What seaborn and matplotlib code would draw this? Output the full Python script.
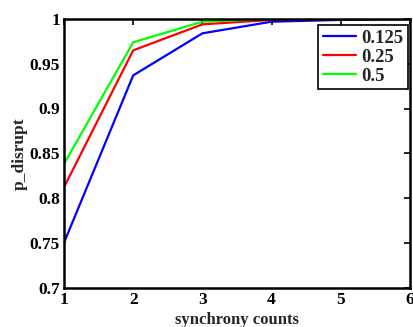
import matplotlib
matplotlib.use("Agg")
import matplotlib.pyplot as plt
import seaborn as sns
import pandas as pd

x_counts = [1, 2, 3, 4, 5, 6]
p_0125 = [0.750, 0.937, 0.984, 0.997, 0.999, 1.000]
p_025 = [0.812, 0.965, 0.994, 0.999, 1.000, 1.000]
p_05 = [0.838, 0.974, 0.997, 1.000, 1.000, 1.000]
series_labels = ["0.125", "0.25", "0.5"]
colors = ["#0000ff", "#ff0000", "#00ff00"]

rows = []
for lab, vals in zip(series_labels, [p_0125, p_025, p_05]):
    for xv, yv in zip(x_counts, vals):
        rows.append({"x": xv, "p": yv, "series": lab})
df = pd.DataFrame(rows)

sns.set_style("white")
plt.rcParams['font.family'] = ['Liberation Serif', 'DejaVu Serif']
plt.rcParams['font.weight'] = 'bold'

fig = plt.figure(figsize=(4.13, 3.27), dpi=100)
ax = fig.add_axes([64/413, 1-287.5/327, (410-64)/413, (287.5-19)/327])
sns.lineplot(data=df, x="x", y="p", hue="series", palette=colors,
             linewidth=1.6, ax=ax, legend=True)

ax.set_xlim(1, 6)
ax.set_ylim(0.7, 1.0)
ax.set_xticks([1, 2, 3, 4, 5, 6])
ax.set_xticklabels(["1", "2", "3", "4", "5", "6"])
yt = [0.7, 0.75, 0.8, 0.85, 0.9, 0.95, 1.0]
ax.set_yticks(yt)
ax.set_yticklabels(["0.7", "0.75", "0.8", "0.85", "0.9", "0.95", "1"])
ax.tick_params(direction='in', length=4, width=1.2, top=True, right=True,
               labelsize=12.5, pad=3, colors='black')
for lbl in ax.get_xticklabels() + ax.get_yticklabels():
    lbl.set_fontweight('bold')
for sp in ax.spines.values():
    sp.set_visible(True)
    sp.set_color('black')
    sp.set_linewidth(1.8)

ax.set_xlabel("synchrony counts", fontsize=12, fontweight='bold', labelpad=3)
ax.set_ylabel("p_disrupt", fontsize=12.5, fontweight='bold', labelpad=1)

leg = ax.legend(loc='upper right', bbox_to_anchor=(0.994, 0.978), frameon=True,
                fancybox=False, framealpha=1, edgecolor='black',
                prop={'weight': 'bold', 'size': 13.5}, handlelength=1.8,
                borderpad=0.25, labelspacing=0.1, handletextpad=0.25,
                borderaxespad=0)
leg.get_frame().set_linewidth(1.2)
for line in leg.get_lines():
    line.set_linewidth(1.6)

fig.savefig("out.png", dpi=100)
